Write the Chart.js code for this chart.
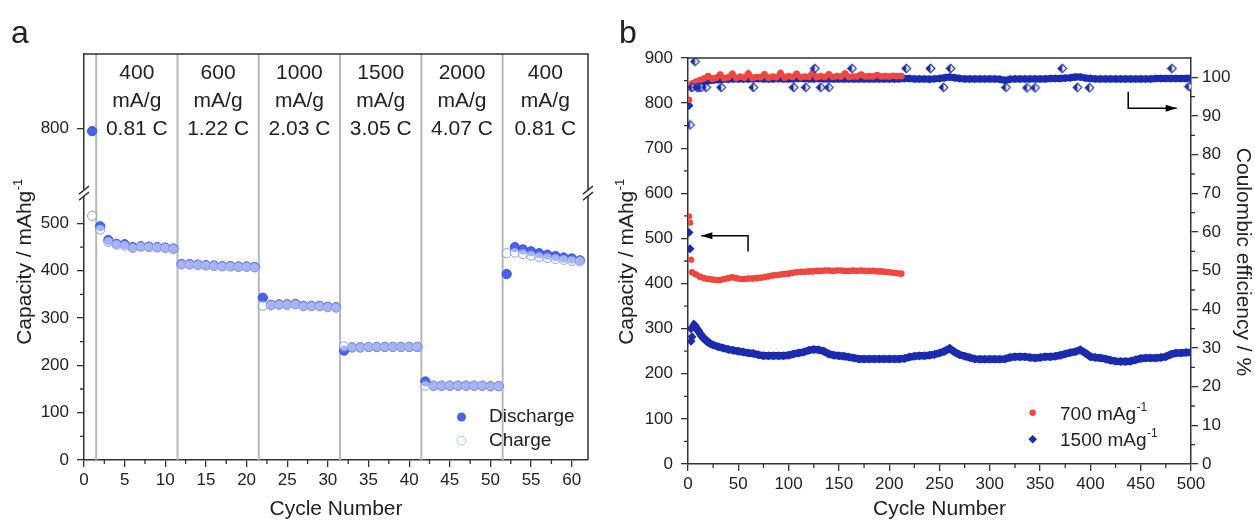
<!DOCTYPE html>
<html><head><meta charset="utf-8">
<script src="https://cdn.jsdelivr.net/npm/chart.js@4.4.0/dist/chart.umd.min.js"></script>
<style>
html,body{margin:0;padding:0;background:#fff;}
#wrap{position:relative;width:1255px;height:521px;overflow:hidden;background:#fff;}
canvas{position:absolute;top:0;}
</style></head><body>
<div id="wrap">
<canvas id="ca" width="600" height="521" style="left:0px"></canvas>
<canvas id="cb" width="655" height="521" style="left:600px"></canvas>
</div>
<script>
// ---------------- Panel a: rate capability ----------------
const cyclesA = [1,2,3,4,5,6,7,8,9,10,11,12,13,14,15,16,17,18,19,20,21,22,23,24,25,26,27,28,29,30,31,32,33,34,35,36,37,38,39,40,41,42,43,44,45,46,47,48,49,50,51,52,53,54,55,56,57,58,59,60,61];
const dischargeA = [795,494,465,457,456,450,452,451,450,449,447,414,414,413,412,411,410,410,409,409,408,343,328,329,329,330,326,326,326,324,323,231,238,238,239,239,239,239,239,239,239,166,157,157,157,157,157,157,157,156,156,393,450,445,441,437,434,431,428,426,422];
const chargeA = [516,487,461,455,453,448,451,450,449,448,446,413,413,412,411,410,409,409,408,408,407,326,327,328,328,329,325,325,325,323,322,240,238,238,239,239,239,239,239,239,239,157,157,157,157,157,157,157,157,156,156,437,438,435,432,429,427,425,423,421,420];
const rateBounds = [1.5, 11.5, 21.5, 31.5, 41.5, 51.5];
const rateText = [["400","mA/g","0.81 C"],["600","mA/g","1.22 C"],["1000","mA/g","2.03 C"],["1500","mA/g","3.05 C"],["2000","mA/g","4.07 C"],["400","mA/g","0.81 C"]];
const xTicksA = [0,5,10,15,20,25,30,35,40,45,50,55,60];
const xMinorA = [2.5,7.5,12.5,17.5,22.5,27.5,32.5,37.5,42.5,47.5,52.5,57.5];
const yTicksA = [0,100,200,300,400,500,800];
const yMinorA = [50,150,250,350,450];
const yBreakA = 564;   // axis break (lower segment ends here)

// ---------------- Panel b: long cycling ----------------
const cap700InitCycles = [1,2,3];
const cap700Init = [549,535,453];
const cap700Cycles = [4,8,12,16,20,24,28,32,36,40,44,48,52,56,60,64,68,72,76,80,84,88,92,96,100,104,108,112,116,120,124,128,132,136,140,144,148,152,156,160,164,168,172,176,180,184,188,192,196,200,204,208,212];
const cap700 = [425,420,415,412,410,409,408,408,410,412,414,412,410,410,411,411,412,413,414,416,418,419,420,421,422,424,425,426,426,427,427,428,428,429,429,428,429,429,428,428,429,428,429,428,428,428,427,427,426,425,424,423,422];
const ce700InitCycles = [1,2,3];
const ce700Init = [94.2,97.2,98.0];
const ce700 = [98.4,98.9,99.3,99.7,100.3,99.6,99.9,100.7,99.7,100.0,100.9,99.8,100.2,99.9,101.0,99.8,100.1,100.0,100.8,99.9,100.2,100.0,101.1,99.9,100.3,100.1,100.9,100.0,100.2,100.1,101.2,100.0,100.3,100.1,100.8,100.1,100.3,100.2,101.0,100.1,100.2,100.2,100.7,100.2,100.3,100.2,100.6,100.2,100.3,100.2,100.4,100.3,100.3];

const cap1500InitCycles = [1,2,3,3,4];
const cap1500Init = [513,477,300,272,282];
const cap1500Cycles = [5,6,7,8,10,12,14,16,18,20,22,25,30,35,40,45,50,55,60,65,70,75,80,85,90,95,100,105,110,115,120,125,130,135,140,145,150,155,160,165,170,175,180,185,190,195,200,205,210,215,220,225,230,235,240,245,250,255,260,265,270,275,280,285,290,295,300,305,310,315,320,325,330,335,340,345,350,355,360,365,370,375,380,385,390,395,400,405,410,415,420,425,430,435,440,445,450,455,460,465,470,475,480,485,490,495,500];
const cap1500 = [305,308,306,302,296,289,283,278,274,270,267,264,
260,257,254,252,250,248,246,245,242,240,
240,240,240,240,241,244,246,248,252,254,
253,250,244,241,240,239,237,235,233,233,
233,233,233,233,233,233,233,234,237,239,
240,240,241,243,246,250,256,248,242,239,
236,233,232,232,232,232,232,233,236,238,
238,238,236,235,236,238,238,239,241,244,
247,249,253,246,238,236,235,233,230,228,
227,227,228,231,234,235,235,235,236,238,
243,246,246,247,247];
const ce1500InitCycles = [1];
const ce1500Init = [92.7];
const ce1500Cycles = [3,5,10,15,20,25,30,35,40,45,50,55,60,65,70,75,80,85,90,95,100,105,110,115,120,125,130,135,140,145,150,155,160,165,170,175,180,185,190,195,200,205,210,215,220,225,230,235,240,245,250,255,260,265,270,275,280,285,290,295,300,305,310,315,320,325,330,335,340,345,350,355,360,365,370,375,380,385,390,395,400,405,410,415,420,425,430,435,440,445,450,455,460,465,470,475,480,485,490,495,500];
const ce1500 = [97.3,
97.5,97.8,98.5,99.1,99.3,99.4,99.5,99.5,99.6,99.6,
99.6,99.6,99.6,99.7,99.6,99.6,99.6,99.7,99.6,99.6,
99.6,99.7,99.7,99.6,99.6,99.7,99.6,99.6,99.6,99.6,
99.6,99.6,99.6,99.6,99.6,99.6,99.6,99.6,99.6,99.6,
99.6,99.6,99.7,99.7,99.6,99.6,99.6,99.5,99.6,99.7,
99.9,100.1,99.9,99.7,99.6,99.6,99.6,99.6,99.6,99.6,
99.6,99.5,99.2,99.5,99.6,99.6,99.6,99.6,99.6,99.6,
99.6,99.7,99.7,99.7,99.8,99.9,100.1,100.1,99.8,99.7,
99.6,99.6,99.6,99.6,99.6,99.6,99.6,99.6,99.6,99.6,
99.6,99.6,99.7,99.7,99.7,99.7,99.7,99.7,99.7,99.8];
const ce1500OutCycles = [2,4,7,9,11,13,18,33,65,105,117,126,132,140,163,217,241,254,261,316,337,345,372,387,399,481,498];
const ce1500Out = [87.7,97.4,104.1,97.4,97.4,97.4,97.4,97.4,97.4,97.4,97.4,102.3,97.4,97.4,102.3,102.3,102.3,97.4,102.3,97.4,97.3,97.3,102.3,97.4,97.3,102.3,97.6];

const xTicksB = [0,50,100,150,200,250,300,350,400,450,500];
const xMinorB = [25,75,125,175,225,275,325,375,425,475];
const yTicksB = [0,100,200,300,400,500,600,700,800,900];
const yMinorB = [50,150,250,350,450,550,650,750,850];
const y1TicksB = [0,10,20,30,40,50,60,70,80,90,100];
const y1MinorB = [5,15,25,35,45,55,65,75,85,95];
// arrow annotations: [cycle, value] points (corner start -> tip)
const arrowLeft = [[59.7,471],[59.7,506],[13.3,506]];
const arrowRight = [[437.6,96.3],[437.6,92.0],[485.8,92.0]];

// ---------------- helpers ----------------
const FF = '"Liberation Sans", Arial, Helvetica, sans-serif';
const TXT = '#222';
const AX = '#333';
Chart.defaults.font.family = FF;
Chart.defaults.color = TXT;

function breakY(v){ return v > 620 ? v - 100 : v; }
function unbreakY(t){ return t > yBreakA ? t + 100 : t; }
function pts(xs, ys, f){ return xs.map((x,i)=>({x:x, y: f ? f(ys[i]) : ys[i]})); }

function rich(ctx, main, sup, x, y, size, rot, align){
  ctx.save();
  ctx.translate(x, y);
  ctx.rotate(rot);
  ctx.fillStyle = TXT;
  ctx.textBaseline = 'alphabetic';
  ctx.textAlign = 'left';
  ctx.font = size + 'px ' + FF;
  const w1 = ctx.measureText(main).width;
  const ss = Math.round(size*0.62);
  ctx.font = ss + 'px ' + FF;
  const w2 = sup ? ctx.measureText(sup).width : 0;
  const sx = align === 'center' ? -(w1 + w2)/2 : 0;
  ctx.font = size + 'px ' + FF;
  ctx.fillText(main, sx, 0);
  if (sup){ ctx.font = ss + 'px ' + FF; ctx.fillText(sup, sx + w1 + 0.5, -size*0.45); }
  ctx.restore();
}
function minor(ctx, scale, vals, len, side){
  ctx.save(); ctx.strokeStyle = AX; ctx.lineWidth = 1.3; ctx.beginPath();
  vals.forEach(v=>{
    const p = scale.getPixelForValue(v);
    if (side === 'bottom'){ ctx.moveTo(p, scale.top); ctx.lineTo(p, scale.top + len); }
    else if (side === 'left'){ ctx.moveTo(scale.right, p); ctx.lineTo(scale.right - len, p); }
    else { ctx.moveTo(scale.left, p); ctx.lineTo(scale.left + len, p); }
  });
  ctx.stroke(); ctx.restore();
}
function breakMark(ctx, x, py){
  ctx.save();
  ctx.fillStyle = '#fff';
  ctx.beginPath();
  ctx.moveTo(x-5, py+7); ctx.lineTo(x+5, py-1); ctx.lineTo(x+5, py-7); ctx.lineTo(x-5, py+1); ctx.closePath();
  ctx.fill();
  ctx.strokeStyle = AX; ctx.lineWidth = 1.4;
  ctx.beginPath();
  ctx.moveTo(x-5, py+7); ctx.lineTo(x+5, py-1);
  ctx.moveTo(x-5, py+1); ctx.lineTo(x+5, py-7);
  ctx.stroke();
  ctx.restore();
}
function arrow(ctx, p){
  ctx.save(); ctx.strokeStyle = '#000'; ctx.fillStyle = '#000'; ctx.lineWidth = 1.5;
  ctx.beginPath(); ctx.moveTo(p[0][0], p[0][1]);
  for (let i=1;i<p.length;i++) ctx.lineTo(p[i][0], p[i][1]);
  ctx.stroke();
  const a = p[p.length-2], b = p[p.length-1];
  const ang = Math.atan2(b[1]-a[1], b[0]-a[0]);
  const L = 11, W = 3.6;
  ctx.beginPath();
  ctx.moveTo(b[0], b[1]);
  ctx.lineTo(b[0] - L*Math.cos(ang) + W*Math.sin(ang), b[1] - L*Math.sin(ang) - W*Math.cos(ang));
  ctx.lineTo(b[0] - L*Math.cos(ang) - W*Math.sin(ang), b[1] - L*Math.sin(ang) + W*Math.cos(ang));
  ctx.closePath(); ctx.fill();
  ctx.restore();
}
function tickOpts(pad){ return {font:{size:17}, color:TXT, padding:pad, autoSkip:false, maxRotation:0}; }
const gridOpts = {drawOnChartArea:false, tickLength:7, color:AX, lineWidth:1.3};
const borderOpts = {color:AX, width:1.5};

// half-filled diamond marker
const NAVY = '#1b2bb0';
const half = document.createElement('canvas');
half.width = 11; half.height = 11;
(function(){
  const c = half.getContext('2d');
  const d = () => { c.beginPath(); c.moveTo(5.5,1.2); c.lineTo(9.8,5.5); c.lineTo(5.5,9.8); c.lineTo(1.2,5.5); c.closePath(); };
  d(); c.fillStyle = '#fff'; c.fill();
  c.beginPath(); c.moveTo(5.5,1.2); c.lineTo(1.2,5.5); c.lineTo(5.5,9.8); c.closePath();
  c.fillStyle = NAVY; c.fill();
  d(); c.strokeStyle = NAVY; c.lineWidth = 1.1; c.stroke();
})();

// ---------------- Chart a ----------------
const DIS = '#4563ee';
const panelA = {
  id:'panelA',
  beforeDatasetsDraw(chart){
    const ctx = chart.ctx, xs = chart.scales.x, ca = chart.chartArea;
    ctx.save(); ctx.strokeStyle = '#b8b8b8'; ctx.lineWidth = 2;
    rateBounds.forEach(b=>{ const px = xs.getPixelForValue(b); ctx.beginPath(); ctx.moveTo(px, ca.top); ctx.lineTo(px, ca.bottom); ctx.stroke(); });
    ctx.restore();
  },
  afterDatasetsDraw(chart){
    const ctx = chart.ctx, xs = chart.scales.x, ys = chart.scales.y, ca = chart.chartArea;
    ctx.save(); ctx.strokeStyle = AX; ctx.lineWidth = 1.5;
    ctx.beginPath(); ctx.moveTo(ca.left, ca.top); ctx.lineTo(ca.right, ca.top); ctx.lineTo(ca.right, ca.bottom); ctx.stroke();
    ctx.restore();
    minor(ctx, xs, xMinorA, 4, 'bottom');
    minor(ctx, ys, yMinorA, 4, 'left');
    const pb = ys.getPixelForValue(yBreakA);
    breakMark(ctx, ca.left, pb);
    breakMark(ctx, ca.right, pb);
    // rate labels
    ctx.save(); ctx.fillStyle = TXT; ctx.font = '21px ' + FF; ctx.textAlign = 'center'; ctx.textBaseline = 'middle';
    rateText.forEach((lines, i)=>{
      const a = rateBounds[i], b = i+1 < rateBounds.length ? rateBounds[i+1] : xs.max;
      const cx = xs.getPixelForValue((a+b)/2);
      lines.forEach((s, j)=> ctx.fillText(s, cx, 73 + j*28));
    });
    ctx.restore();
    // legend
    ctx.save();
    ctx.beginPath(); ctx.arc(461.5, 417, 4.5, 0, Math.PI*2); ctx.fillStyle = DIS; ctx.fill();
    ctx.beginPath(); ctx.arc(461.5, 440.5, 4.5, 0, Math.PI*2); ctx.fillStyle = '#fff'; ctx.fill(); ctx.strokeStyle = '#b9bfdc'; ctx.lineWidth = 1; ctx.stroke();
    ctx.fillStyle = TXT; ctx.font = '19px ' + FF; ctx.textAlign = 'left'; ctx.textBaseline = 'middle';
    ctx.fillText('Discharge', 489, 417);
    ctx.fillText('Charge', 489, 440.5);
    ctx.restore();
    // titles
    rich(ctx, 'Capacity / mAhg', '-1', 31, 262, 21, -Math.PI/2, 'center');
    rich(ctx, 'Cycle Number', '', (ca.left+ca.right)/2, 515, 21, 0, 'center');
    rich(ctx, 'a', '', 11, 43, 32, 0, 'left');
  }
};

new Chart(document.getElementById('ca'), {
  type:'scatter',
  data:{datasets:[
    {label:'Charge', data: pts(cyclesA, chargeA, breakY), order:0,
     pointRadius:4.6, pointBackgroundColor:'rgba(255,255,255,0.52)', pointBorderColor:'rgba(130,148,228,0.9)', pointBorderWidth:1},
    {label:'Discharge', data: pts(cyclesA, dischargeA, breakY), order:1,
     pointRadius:4.6, pointBackgroundColor:DIS, pointBorderColor:'#3552e0', pointBorderWidth:1}
  ]},
  options:{
    responsive:false, animation:false, events:[],
    layout:{padding:{top:54, right:12, left:0, bottom:0}},
    plugins:{legend:{display:false}, tooltip:{enabled:false}},
    scales:{
      x:{type:'linear', position:'bottom', min:0, max:62,
         afterBuildTicks:s=>{ s.ticks = xTicksA.map(v=>({value:v})); },
         afterFit:s=>{ s.height = 61; },
         ticks:tickOpts(3), grid:gridOpts, border:borderOpts},
      y:{type:'linear', position:'left', min:0, max:858,
         afterBuildTicks:s=>{ s.ticks = yTicksA.map(v=>({value:breakY(v)})); },
         afterFit:s=>{ s.width = 84; },
         ticks:Object.assign(tickOpts(8), {callback:v=>String(unbreakY(v))}), grid:gridOpts, border:borderOpts}
    }
  },
  plugins:[panelA]
});

// ---------------- Chart b ----------------
const RED = '#f0463e';
const panelB = {
  id:'panelB',
  afterDatasetsDraw(chart){
    const ctx = chart.ctx, xs = chart.scales.x, ys = chart.scales.y, y1 = chart.scales.y1, ca = chart.chartArea;
    ctx.save(); ctx.strokeStyle = AX; ctx.lineWidth = 1.5;
    ctx.beginPath(); ctx.moveTo(ca.left, ca.top); ctx.lineTo(ca.right, ca.top); ctx.stroke();
    ctx.restore();
    minor(ctx, xs, xMinorB, 4, 'bottom');
    minor(ctx, ys, yMinorB, 4, 'left');
    minor(ctx, y1, y1MinorB, 4, 'right');
    arrow(ctx, arrowLeft.map(p=>[xs.getPixelForValue(p[0]), ys.getPixelForValue(p[1])]));
    arrow(ctx, arrowRight.map(p=>[xs.getPixelForValue(p[0]), y1.getPixelForValue(p[1])]));
    // legend
    ctx.save();
    ctx.beginPath(); ctx.arc(432.7, 412.7, 3.2, 0, Math.PI*2); ctx.fillStyle = RED; ctx.fill();
    ctx.beginPath(); ctx.moveTo(432.7, 435); ctx.lineTo(437, 439.3); ctx.lineTo(432.7, 443.6); ctx.lineTo(428.4, 439.3); ctx.closePath(); ctx.fillStyle = NAVY; ctx.fill();
    ctx.restore();
    rich(ctx, '700 mAg', '-1', 460, 419.5, 19, 0, 'left');
    rich(ctx, '1500 mAg', '-1', 460, 446, 19, 0, 'left');
    // titles
    rich(ctx, 'Capacity / mAhg', '-1', 33, 262, 21, -Math.PI/2, 'center');
    rich(ctx, 'Coulombic efficiency / %', '', 637, 262, 21, Math.PI/2, 'center');
    rich(ctx, 'Cycle Number', '', (ca.left+ca.right)/2, 515, 21, 0, 'center');
    rich(ctx, 'b', '', 19, 43, 32, 0, 'left');
  }
};

new Chart(document.getElementById('cb'), {
  type:'scatter',
  data:{datasets:[
    {label:'CE 1500 outliers', data: pts(ce1500OutCycles, ce1500Out), yAxisID:'y1', order:0, pointStyle:half, pointRadius:5},
    {label:'CE 700 init', data: pts(ce700InitCycles, ce700Init), yAxisID:'y1', order:1, pointRadius:3.2, pointBackgroundColor:RED, pointBorderWidth:0},
    {label:'CE 700', data: pts(cap700Cycles, ce700), yAxisID:'y1', order:1, showLine:true, borderColor:RED, borderWidth:5.5, pointRadius:3.3, pointBackgroundColor:RED, pointBorderWidth:0},
    {label:'Cap 700 init', data: pts(cap700InitCycles, cap700Init), yAxisID:'y', order:2, pointRadius:3.2, pointBackgroundColor:RED, pointBorderWidth:0},
    {label:'700 mAg-1', data: pts(cap700Cycles, cap700), yAxisID:'y', order:2, showLine:true, borderColor:RED, borderWidth:5.5, pointRadius:3.3, pointBackgroundColor:RED, pointBorderWidth:0},
    {label:'CE 1500 init', data: pts(ce1500InitCycles, ce1500Init), yAxisID:'y1', order:3, pointStyle:'rectRot', pointRadius:4.5, pointBackgroundColor:NAVY, pointBorderWidth:0},
    {label:'CE 1500', data: pts(ce1500Cycles, ce1500), yAxisID:'y1', order:3, showLine:true, borderColor:NAVY, borderWidth:7, pointStyle:'rectRot', pointRadius:4.2, pointBackgroundColor:NAVY, pointBorderWidth:0},
    {label:'Cap 1500 init', data: pts(cap1500InitCycles, cap1500Init), yAxisID:'y', order:3, pointStyle:'rectRot', pointRadius:4.5, pointBackgroundColor:NAVY, pointBorderWidth:0},
    {label:'1500 mAg-1', data: pts(cap1500Cycles, cap1500), yAxisID:'y', order:3, showLine:true, borderColor:NAVY, borderWidth:7.5, pointStyle:'rectRot', pointRadius:4.5, pointBackgroundColor:NAVY, pointBorderWidth:0}
  ]},
  options:{
    responsive:false, animation:false, events:[],
    layout:{padding:{top:58, right:0, left:0, bottom:0}},
    plugins:{legend:{display:false}, tooltip:{enabled:false}},
    scales:{
      x:{type:'linear', position:'bottom', min:0, max:500,
         afterBuildTicks:s=>{ s.ticks = xTicksB.map(v=>({value:v})); },
         afterFit:s=>{ s.height = 57; },
         ticks:tickOpts(3), grid:gridOpts, border:borderOpts},
      y:{type:'linear', position:'left', min:0, max:900,
         afterBuildTicks:s=>{ s.ticks = yTicksB.map(v=>({value:v})); },
         afterFit:s=>{ s.width = 88; },
         ticks:tickOpts(8), grid:gridOpts, border:borderOpts},
      y1:{type:'linear', position:'right', min:0, max:105,
         afterBuildTicks:s=>{ s.ticks = y1TicksB.map(v=>({value:v})); },
         afterFit:s=>{ s.width = 64; },
         ticks:tickOpts(4), grid:gridOpts, border:borderOpts}
    }
  },
  plugins:[panelB]
});
</script>
</body></html>
